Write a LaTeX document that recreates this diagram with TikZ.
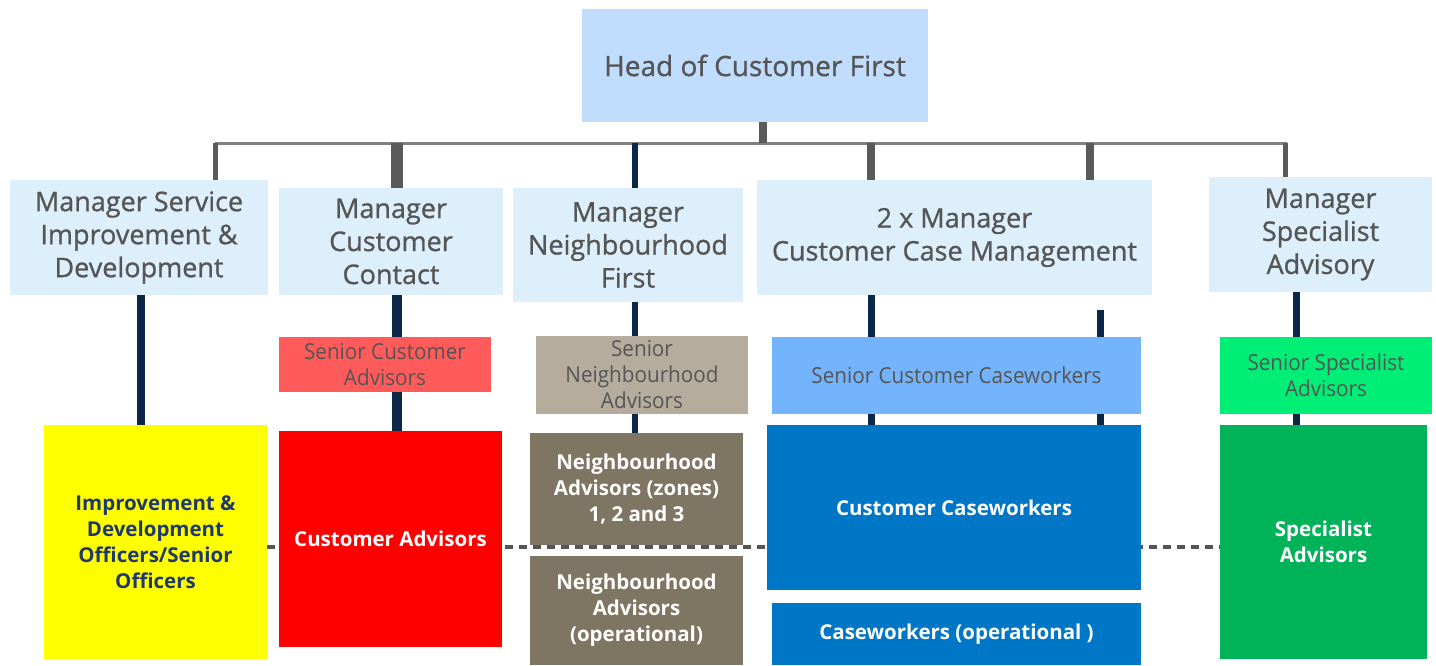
\documentclass[tikz,border=0pt]{standalone}
\usepackage{fontspec}
\setmainfont{Open Sans}
\newfontfamily\narrowfont[FakeStretch=0.94]{Open Sans}
\newfontfamily\mgrfont[FakeBold=0.9]{Open Sans}
\usetikzlibrary{calc}
\pgfdeclarelayer{background}
\pgfsetlayers{background,main}
\definecolor{headfill}{RGB}{192,221,253}
\definecolor{mgrfill}{RGB}{222,239,252}
\definecolor{txtgray}{RGB}{85,85,85}
\definecolor{scafill}{RGB}{255,91,91}
\definecolor{snafill}{RGB}{181,172,158}
\definecolor{sccfill}{RGB}{115,180,252}
\definecolor{ssafill}{RGB}{0,238,118}
\definecolor{yelfill}{RGB}{255,255,0}
\definecolor{yeltxt}{RGB}{31,56,110}
\definecolor{redfill}{RGB}{255,0,0}
\definecolor{nafill}{RGB}{127,117,99}
\definecolor{ccfill}{RGB}{0,119,198}
\definecolor{safill}{RGB}{0,178,88}
\definecolor{navyline}{RGB}{12,40,72}
\definecolor{grayline}{RGB}{90,90,90}
\definecolor{busline}{RGB}{128,128,128}
\definecolor{dashline}{RGB}{85,85,85}
\tikzset{
  box/.style={rectangle, draw=none, inner sep=0pt, align=center},
  headbox/.style={box, fill=headfill, text=txtgray, font=\mgrfont\fontsize{28}{34}\selectfont},
  mgrbox/.style={box, fill=mgrfill, text=txtgray, font=\mgrfont\fontsize{27}{33}\selectfont},
  seniorbox/.style={box, text=txtgray, font=\narrowfont\fontsize{22}{26}\selectfont},
  teambox/.style={box, text=white, font=\bfseries\fontsize{20.5}{26}\selectfont},
  graydrop/.style={draw=grayline, line width=#1},
  navydrop/.style={draw=navyline, line width=#1},
  busstyle/.style={draw=busline, line width=3pt},
  dotted link/.style={draw=dashline, line width=3.2pt, dash pattern=on 8pt off 6pt},
}
\begin{document}
\begin{tikzpicture}[x=1pt, y=-1pt]
\useasboundingbox (0,0) rectangle (1436,665);

% top
\node[headbox, minimum width=346pt, minimum height=113pt] (head) at (755,65.5) {Head of Customer First};

% managers
\node[mgrbox, minimum width=258pt, minimum height=115pt] (msid) at (139,237.5) {Manager Service\\Improvement \&\\Development};
\node[mgrbox, minimum width=224pt, minimum height=107pt] (mcc) at (391,241.5) {Manager\\Customer\\Contact};
\node[mgrbox, minimum width=230pt, minimum height=114pt] (mnf) at (628,245) {Manager\\Neighbourhood\\First};
\node[mgrbox, minimum width=395pt, minimum height=115pt] (mcm) at (954.5,237.5) {2 x Manager\\Customer Case Management};
\node[mgrbox, minimum width=223pt, minimum height=115pt] (msa) at (1320.5,234.5) {Manager\\Specialist\\Advisory};

% seniors
\node[seniorbox, fill=scafill, minimum width=212pt, minimum height=55pt] (sca) at (385,364.5) {Senior Customer\\Advisors};
\node[seniorbox, fill=snafill, minimum width=212pt, minimum height=78pt] (sna) at (642,375) {Senior\\Neighbourhood\\Advisors};
\node[seniorbox, fill=sccfill, minimum width=369pt, minimum height=77pt] (scc) at (956.5,375.5) {Senior Customer Caseworkers};
\node[seniorbox, fill=ssafill, minimum width=212pt, minimum height=77pt] (ssa) at (1326,375.5) {Senior Specialist\\Advisors};

% teams
\node[teambox, fill=yelfill, text=yeltxt, minimum width=223pt, minimum height=234pt] (ido) at (155.5,542) {Improvement \&\\Development\\Officers/Senior\\Officers};
\node[teambox, fill=redfill, minimum width=223pt, minimum height=216pt] (ca) at (390.5,539) {Customer Advisors};
\node[teambox, fill=nafill, minimum width=213pt, minimum height=112pt] (naz) at (636.5,489) {Neighbourhood\\Advisors (zones)\\1, 2 and 3};
\node[teambox, fill=nafill, minimum width=213pt, minimum height=109pt] (nao) at (636.5,610.5) {Neighbourhood\\Advisors\\(operational)};
\node[teambox, fill=ccfill, minimum width=374pt, minimum height=165pt] (cc) at (954,507.5) {Customer Caseworkers};
\node[teambox, fill=ccfill, minimum width=369pt, minimum height=62pt] (cwo) at (956.5,634) {Caseworkers (operational )};
\node[teambox, fill=safill, minimum width=207pt, minimum height=234pt] (sa) at (1323.5,542) {Specialist\\Advisors};

% bus coordinates
\coordinate (busL) at (215,143);
\coordinate (busR) at (1287,143);
\coordinate (hd) at (763,143);
\coordinate (b1) at (215,143);
\coordinate (b2) at (397,143);
\coordinate (b3) at (635,143);
\coordinate (b4) at (871,143);
\coordinate (b5) at (1090,143);
\coordinate (b6) at (1285,143);
\coordinate (l1) at (141,0);
\coordinate (l2) at (397,0);
\coordinate (l3) at (635,0);
\coordinate (l4) at (871,0);
\coordinate (l5top) at (1100,310);
\coordinate (l6) at (1296,0);
\coordinate (dashL) at (267,547);
\coordinate (dashR) at (1220,547);

\begin{pgfonlayer}{background}
  \fill[white] (0,0) rectangle (1436,665);
  \draw[busstyle] (busL) -- (busR);
  \draw[graydrop=8pt] (head.south -| hd) -- (hd);
  \draw[graydrop=5pt] (b1) -- (b1 |- msid.north);
  \draw[graydrop=12pt] (b2) -- (b2 |- mcc.north);
  \draw[navydrop=6pt] (b3) -- (b3 |- mnf.north);
  \draw[graydrop=8pt] (b4) -- (b4 |- mcm.north);
  \draw[graydrop=8pt] (b5) -- (b5 |- mcm.north);
  \draw[graydrop=5pt] (b6) -- (b6 |- msa.north);
  \draw[navydrop=8pt] (l1 |- msid.south) -- (l1 |- ido.north);
  \draw[navydrop=10pt] (l2 |- mcc.south) -- ([yshift=-4pt]l2 |- ca.north);
  \draw[navydrop=6pt] (l3 |- mnf.south) -- (l3 |- naz.north);
  \draw[navydrop=7pt] (l4 |- mcm.south) -- (l4 |- cc.north);
  \draw[navydrop=7pt] (l5top) -- (l5top |- cc.north);
  \draw[navydrop=7pt] (l6 |- msa.south) -- (l6 |- sa.north);
  \draw[dotted link] (dashL) -- (dashR);
\end{pgfonlayer}
\end{tikzpicture}
\end{document}
